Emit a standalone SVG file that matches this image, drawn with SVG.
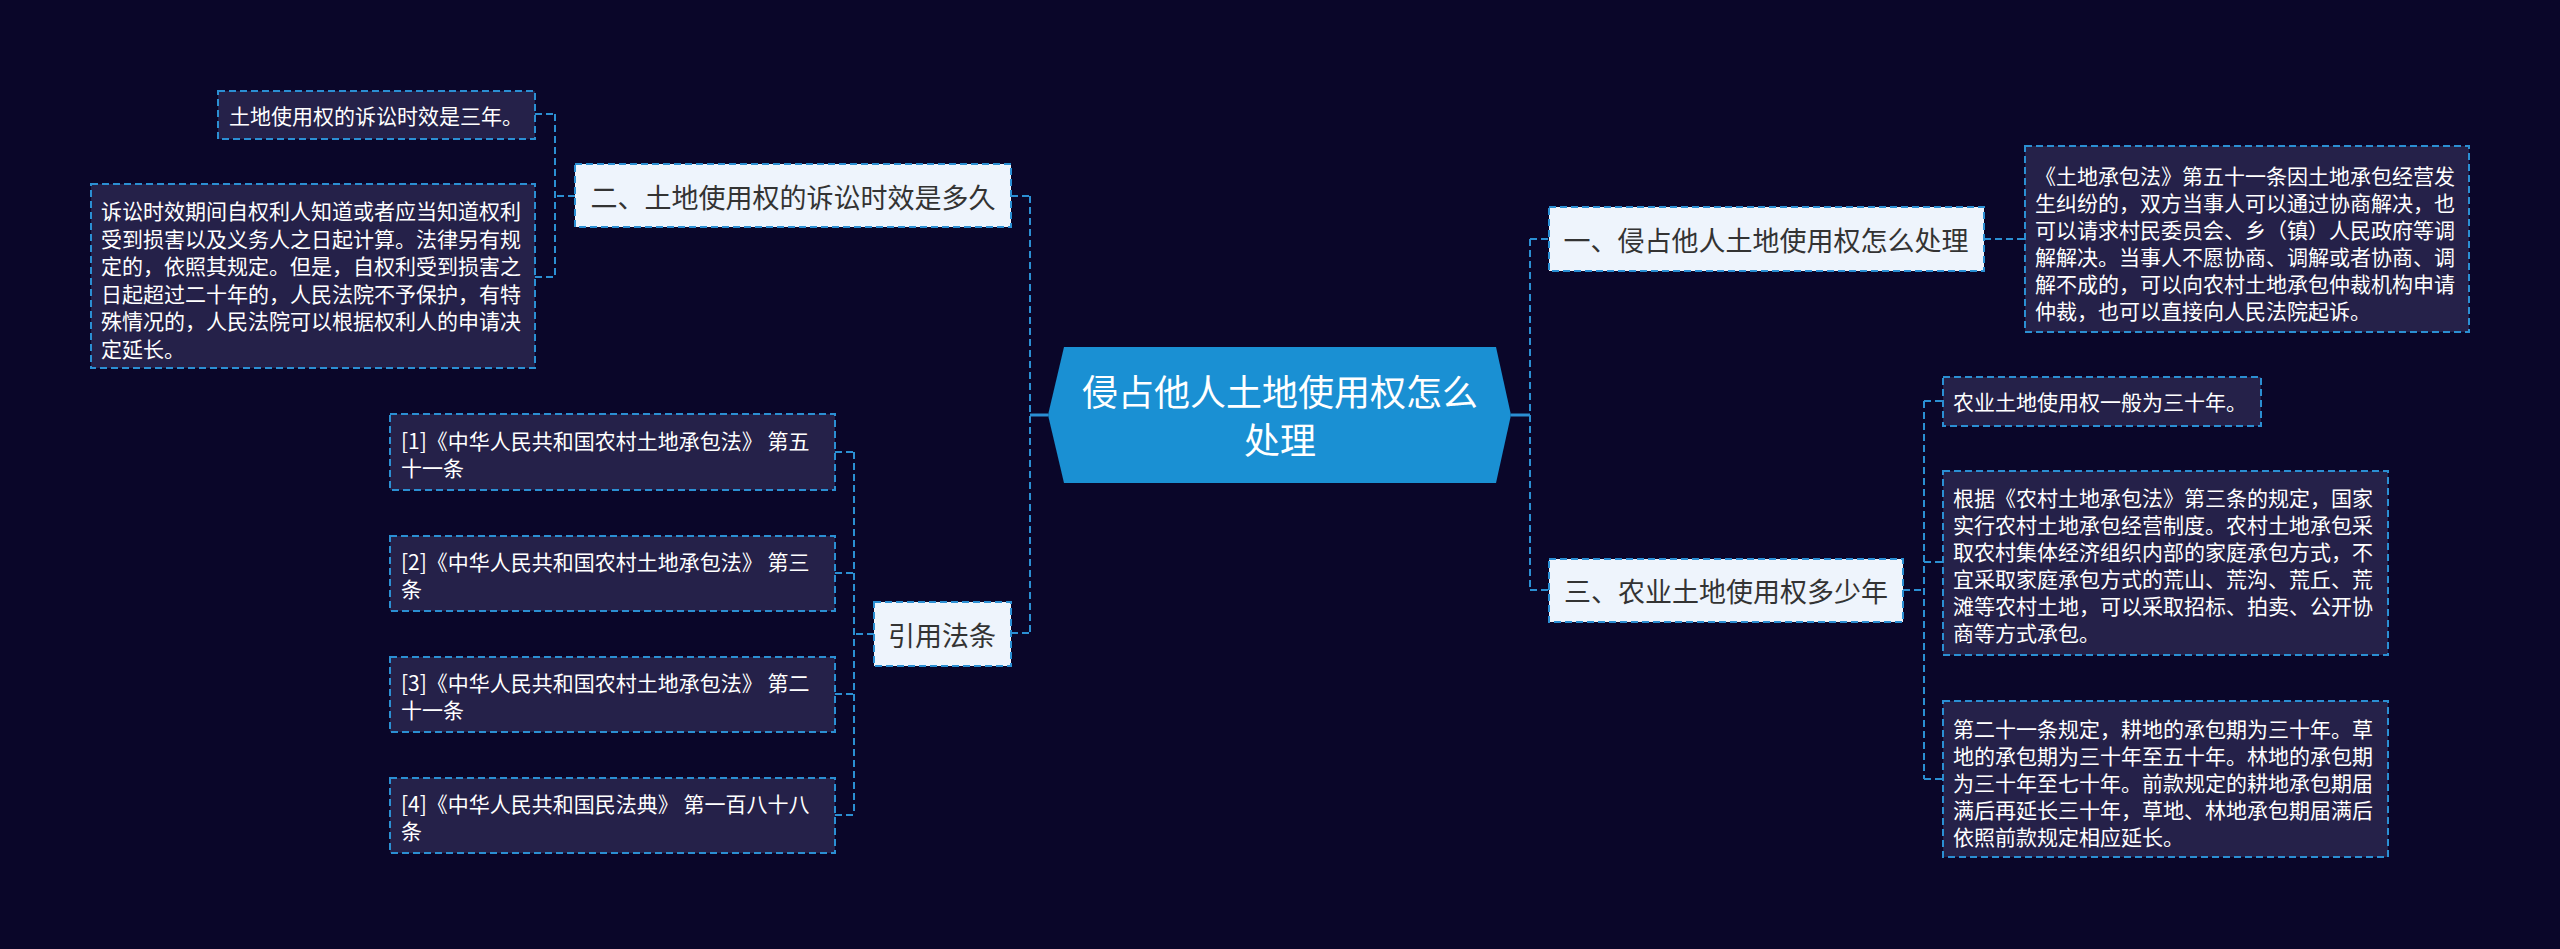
<svg xmlns="http://www.w3.org/2000/svg" width="2560" height="949" viewBox="0 0 2560 949">
<style>
.bg{fill:#0a0629}
.leaf{fill:#252149;stroke:#2b8fd3;stroke-width:2;stroke-dasharray:7 4}
.node{fill:#eef4fc;stroke:#2b8fd3;stroke-width:2;stroke-dasharray:7 4}
.center{fill:#1a90d3}
.lt{font-family:"Noto Sans CJK SC","Noto Sans",sans-serif;font-size:21px;fill:#ffffff;dominant-baseline:central}
.nt{font-family:"Noto Sans CJK SC","Noto Sans",sans-serif;font-size:27px;fill:#333333;text-anchor:middle;dominant-baseline:central}
.ct{font-family:"Noto Sans CJK SC","Noto Sans",sans-serif;font-size:36px;fill:#ffffff;text-anchor:middle;dominant-baseline:central}
.dash{fill:none;stroke:#2b8fd3;stroke-width:2;stroke-dasharray:7 4}
.solid{fill:none;stroke:#2b8fd3;stroke-width:3}
</style>
<rect class="bg" x="0" y="0" width="2560" height="949"/>
<g id="connectors">
<path class="solid" d="M1048,415 H1030"/>
<path class="solid" d="M1511,415 H1530"/>
<path class="dash" d="M1030,196 V633 M1011,196 H1030 M1011,633 H1030"/>
<path class="dash" d="M575,196 H555 M555,114 V277 M535,114 H555 M535,277 H555"/>
<path class="dash" d="M874,634 H854 M854,452 V815 M835,452 H854 M835,573 H854 M835,694 H854 M835,815 H854"/>
<path class="dash" d="M1530,239 V590 M1530,239 H1549 M1530,590 H1549"/>
<path class="dash" d="M1984,239 H2025"/>
<path class="dash" d="M1903,590 H1924 M1924,401 V779 M1924,401 H1943 M1924,562 H1943 M1924,779 H1943"/>
</g>
<g id="center">
<polygon class="center" points="1048,415 1064,347 1496,347 1511,415 1496,483 1064,483"/>
<text class="ct" x="1280" y="390">侵占他人土地使用权怎么</text>
<text class="ct" x="1280" y="438">处理</text>
</g>
<g id="n-l1">
<rect class="node" x="575" y="164" width="436" height="63"/>
<text class="nt" x="793" y="196">二、土地使用权的诉讼时效是多久</text>
</g>
<g id="leaf-l1a">
<rect class="leaf" x="218" y="91" width="317" height="48"/>
<text class="lt" x="229" y="115">土地使用权的诉讼时效是三年。</text>
</g>
<g id="leaf-l1b">
<rect class="leaf" x="91" y="184" width="444" height="184"/>
<text class="lt" x="101" y="210">诉讼时效期间自权利人知道或者应当知道权利</text>
<text class="lt" x="101" y="237.5">受到损害以及义务人之日起计算。法律另有规</text>
<text class="lt" x="101" y="265">定的，依照其规定。但是，自权利受到损害之</text>
<text class="lt" x="101" y="292.5">日起超过二十年的，人民法院不予保护，有特</text>
<text class="lt" x="101" y="320">殊情况的，人民法院可以根据权利人的申请决</text>
<text class="lt" x="101" y="347.5">定延长。</text>
</g>
<g id="n-refs">
<rect class="node" x="874" y="602" width="137" height="64"/>
<text class="nt" x="942" y="634">引用法条</text>
</g>
<g id="ref1">
<rect class="leaf" x="390" y="414" width="445" height="76"/>
<text class="lt" x="401" y="440">[1]《中华人民共和国农村土地承包法》 第五</text>
<text class="lt" x="401" y="467">十一条</text>
</g>
<g id="ref2">
<rect class="leaf" x="390" y="536" width="445" height="75"/>
<text class="lt" x="401" y="561">[2]《中华人民共和国农村土地承包法》 第三</text>
<text class="lt" x="401" y="588">条</text>
</g>
<g id="ref3">
<rect class="leaf" x="390" y="657" width="445" height="75"/>
<text class="lt" x="401" y="682">[3]《中华人民共和国农村土地承包法》 第二</text>
<text class="lt" x="401" y="709">十一条</text>
</g>
<g id="ref4">
<rect class="leaf" x="390" y="778" width="445" height="75"/>
<text class="lt" x="401" y="803">[4]《中华人民共和国民法典》 第一百八十八</text>
<text class="lt" x="401" y="830">条</text>
</g>
<g id="n-r1">
<rect class="node" x="1549" y="207" width="435" height="64"/>
<text class="nt" x="1766" y="239">一、侵占他人土地使用权怎么处理</text>
</g>
<g id="leaf-r1">
<rect class="leaf" x="2025" y="146" width="444" height="186"/>
<text class="lt" x="2035" y="175">《土地承包法》第五十一条因土地承包经营发</text>
<text class="lt" x="2035" y="202">生纠纷的，双方当事人可以通过协商解决，也</text>
<text class="lt" x="2035" y="229">可以请求村民委员会、乡（镇）人民政府等调</text>
<text class="lt" x="2035" y="256">解解决。当事人不愿协商、调解或者协商、调</text>
<text class="lt" x="2035" y="283">解不成的，可以向农村土地承包仲裁机构申请</text>
<text class="lt" x="2035" y="310">仲裁，也可以直接向人民法院起诉。</text>
</g>
<g id="n-r2">
<rect class="node" x="1549" y="559" width="354" height="63"/>
<text class="nt" x="1726" y="590">三、农业土地使用权多少年</text>
</g>
<g id="leaf-r2a">
<rect class="leaf" x="1943" y="377" width="318" height="49"/>
<text class="lt" x="1953" y="401">农业土地使用权一般为三十年。</text>
</g>
<g id="leaf-r2b">
<rect class="leaf" x="1943" y="471" width="445" height="184"/>
<text class="lt" x="1953" y="497">根据《农村土地承包法》第三条的规定，国家</text>
<text class="lt" x="1953" y="524">实行农村土地承包经营制度。农村土地承包采</text>
<text class="lt" x="1953" y="551">取农村集体经济组织内部的家庭承包方式，不</text>
<text class="lt" x="1953" y="578">宜采取家庭承包方式的荒山、荒沟、荒丘、荒</text>
<text class="lt" x="1953" y="605">滩等农村土地，可以采取招标、拍卖、公开协</text>
<text class="lt" x="1953" y="632">商等方式承包。</text>
</g>
<g id="leaf-r2c">
<rect class="leaf" x="1943" y="701" width="445" height="156"/>
<text class="lt" x="1953" y="728">第二十一条规定，耕地的承包期为三十年。草</text>
<text class="lt" x="1953" y="755">地的承包期为三十年至五十年。林地的承包期</text>
<text class="lt" x="1953" y="782">为三十年至七十年。前款规定的耕地承包期届</text>
<text class="lt" x="1953" y="809">满后再延长三十年，草地、林地承包期届满后</text>
<text class="lt" x="1953" y="836">依照前款规定相应延长。</text>
</g>
</svg>
